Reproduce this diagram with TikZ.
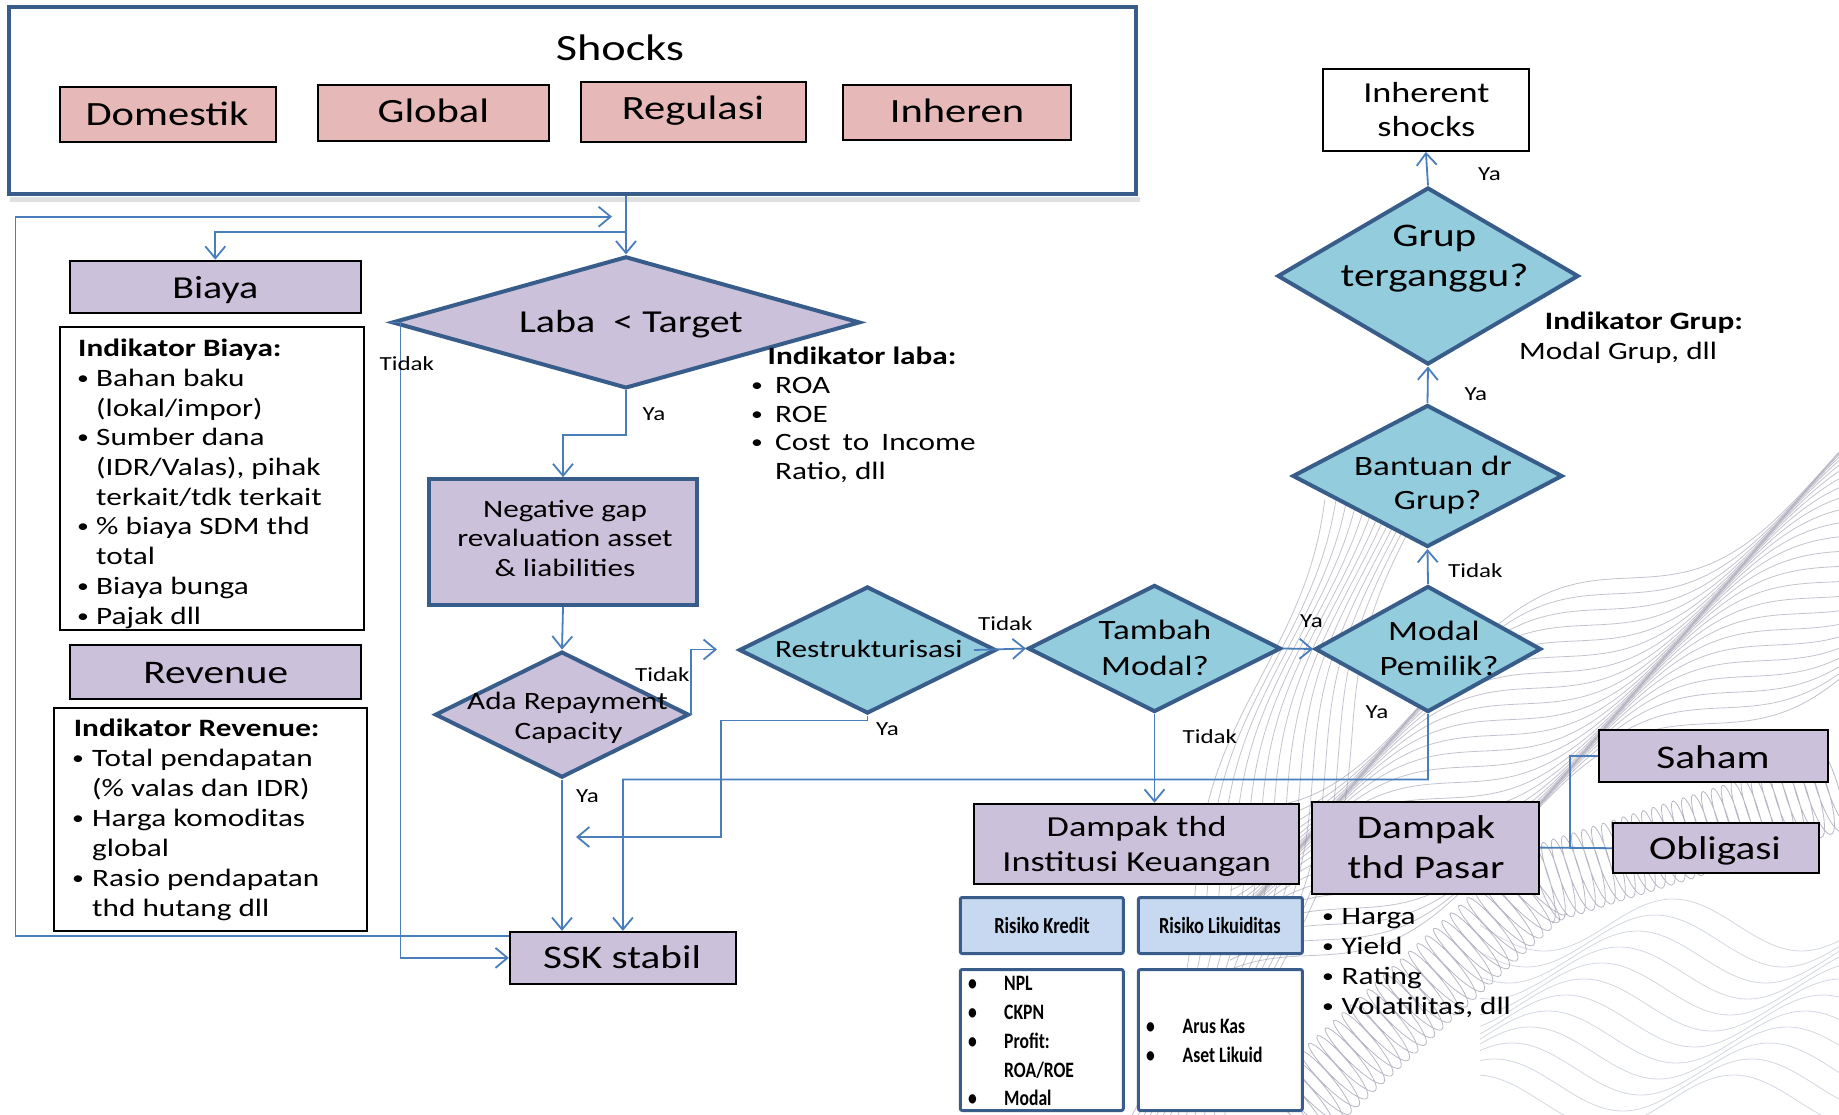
\documentclass[tikz,border=0pt]{standalone}
\usepackage{fontspec}
\setmainfont{Carlito}[FakeStretch=1.25]
\newfontfamily\narrowfont{Carlito}[FakeStretch=0.8]
\usetikzlibrary{arrows.meta,shapes.geometric,calc}

\definecolor{lav}{HTML}{CCC1DA}
\definecolor{rose}{HTML}{E6B9B8}
\definecolor{aqua}{HTML}{93CDDD}
\definecolor{navy}{HTML}{385D8A}
\definecolor{wire}{HTML}{4A7EBB}
\definecolor{riskblue}{HTML}{C6D9F1}
\definecolor{guilA}{HTML}{8C879E}
\definecolor{guilB}{HTML}{A6B2C4}

\begin{document}
\begin{tikzpicture}[x=1pt,y=-1pt,
  panel/.style={draw=black, line width=2pt, inner sep=0pt},
  lavbox/.style={panel, fill=lav},
  pinkbox/.style={panel, fill=rose},
  plainbox/.style={panel, fill=white},
  heavybox/.style={draw=navy, line width=4pt, inner sep=0pt},
  decision/.style={diamond, draw=navy, line width=4pt, inner sep=0pt},
  riskhead/.style={draw=navy, line width=3pt, rounded corners=2pt, fill=riskblue, inner sep=0pt},
  riskbody/.style={draw=navy, line width=3pt, rounded corners=2pt, fill=white, inner sep=0pt},
  txt/.style={inner sep=0pt, anchor=base},
  ltxt/.style={inner sep=0pt, anchor=base west},
  dot/.style={inner sep=0pt, anchor=base west, font=\fontsize{19pt}{22pt}\selectfont},
  conn/.style={draw=wire, line width=1.8pt, -{Straight Barb[length=12pt,width=20pt]}},
  link/.style={draw=wire, line width=1.8pt},
  guil/.style={line width=0.8pt, opacity=0.5},
  f20/.style={font=\fontsize{20pt}{24pt}\selectfont},
  f25/.style={font=\fontsize{25pt}{30pt}\selectfont},
  f25b/.style={font=\fontsize{25pt}{30pt}\selectfont\bfseries},
  f28/.style={font=\fontsize{28pt}{34pt}\selectfont},
  f29/.style={font=\fontsize{29pt}{35pt}\selectfont},
  f32/.style={font=\fontsize{32pt}{38pt}\selectfont},
  f33/.style={font=\fontsize{33pt}{40pt}\selectfont},
  f34/.style={font=\fontsize{34pt}{41pt}\selectfont},
  f37/.style={font=\fontsize{37pt}{44pt}\selectfont},
  nhead/.style={font=\narrowfont\bfseries\fontsize{23pt}{28pt}\selectfont},
  nbody/.style={font=\narrowfont\bfseries\fontsize{22pt}{27pt}\selectfont},
]
\useasboundingbox (0,0) rectangle (1839,1115);
\fill[white] (0,0) rectangle (1839,1115);

% ---------- guilloche ornament, lower right ----------
\begin{scope}
\clip (1000,360) rectangle (1839,1115);
% wire-frame ridges
\foreach \i in {0,...,24} {
  \draw[guil, draw=guilA]
    plot[domain=1230:1839, samples=110, smooth]
    (\x, {810 + 8*\i - 0.58*(\x-1230) + 34*sin(0.9*(\x-1230) + 12*\i)});
}
% slanted ripples
\foreach \j in {0,...,12} {
  \draw[guil, draw=guilA]
    plot[domain=500:1115, samples=90, smooth, variable=\y]
    ({1130 + 0.3*(1115-\y) + 9*\j + 16*sin(0.8*\y + 11*\j)}, \y);
}
% coiled band, four runs of fifteen turns each
\foreach \sx/\sy/\dx/\dy/\nx/\ny/\ex/\ey in {
    1290/1115/125/-115/0.676/0.735/0.735/-0.676,
    1415/1000/125/-115/0.676/0.735/0.735/-0.676,
    1540/885/150/-47.5/0.303/0.952/0.952/-0.303,
    1690/837.5/149/-47.5/0.303/0.952/0.952/-0.303} {
  \draw[guil, draw=guilA, opacity=0.6]
    plot[domain=0:5400, samples=380, smooth, variable=\t]
    ({\sx + \dx*(\t/5400) + 40*\nx*cos(\t) + 8*\ex*sin(\t)},
     {\sy + \dy*(\t/5400) + 40*\ny*cos(\t) + 8*\ey*sin(\t)});
}
% contour lines
\foreach \m in {0,...,11} {
  \draw[guil, draw=guilB]
    plot[domain=1480:1839, samples=90, smooth]
    (\x, {925 + 16*\m + 26*sin(1.4*(\x-1480) + 25*\m)});
}
\end{scope}

% ---------- shocks panel ----------
\fill[black!12] (10,197) rectangle (1140,202);
\node[heavybox, fill=white, minimum width=1127pt, minimum height=187pt] (shocks) at (572.5,100.5) {};
\node[txt,f37] (shocksT) at (620,61) {Shocks};
\node[pinkbox, minimum width=216pt, minimum height=55pt] (dom) at (168,115) {};
\node[txt,f34] (domT) at (167,126) {Domestik};
\node[pinkbox, minimum width=231pt, minimum height=56pt] (glob) at (433.4,113.3) {};
\node[txt,f34] (globT) at (433.4,123) {Global};
\node[pinkbox, minimum width=225pt, minimum height=60pt] (reg) at (693,112.5) {};
\node[txt,f34] (regT) at (693,120) {Regulasi};
\node[pinkbox, minimum width=228pt, minimum height=55pt] (inher) at (957,112.7) {};
\node[txt,f34] (inherT) at (957,123) {Inheren};

% ---------- cost side ----------
\node[lavbox, minimum width=291pt, minimum height=52pt] (biaya) at (215.3,286.7) {};
\node[txt,f32] (biayaT) at (215.3,299) {Biaya};
\node[plainbox, minimum width=304pt, minimum height=303pt] (indB) at (212,478.5) {};
\node[ltxt,f25b] (indB0) at (78,356.7) {Indikator Biaya:};
\node[dot] (indBb1) at (77,384.4) {•};
\node[ltxt,f25] (indB1) at (96,386.4) {Bahan baku};
\node[ltxt,f25] (indB2) at (96,416.1) {(lokal/impor)};
\node[dot] (indBb3) at (77,443.8) {•};
\node[ltxt,f25] (indB3) at (96,445.8) {Sumber dana};
\node[ltxt,f25] (indB4) at (96,475.5) {(IDR/Valas), pihak};
\node[ltxt,f25] (indB5) at (96,505.2) {terkait/tdk terkait};
\node[dot] (indBb6) at (77,532.9) {•};
\node[ltxt,f25] (indB6) at (96,534.9) {\% biaya SDM thd};
\node[ltxt,f25] (indB7) at (96,564.6) {total};
\node[dot] (indBb8) at (77,592.3) {•};
\node[ltxt,f25] (indB8) at (96,594.3) {Biaya bunga};
\node[dot] (indBb9) at (77,622) {•};
\node[ltxt,f25] (indB9) at (96,624) {Pajak dll};

% ---------- revenue side ----------
\node[lavbox, minimum width=291pt, minimum height=54pt] (rev) at (215.7,671.7) {};
\node[txt,f33] (revT) at (215.7,683.3) {Revenue};
\node[plainbox, minimum width=313pt, minimum height=223pt] (indR) at (210.9,819.2) {};
\node[ltxt,f25b] (indR0) at (73.7,736.7) {Indikator Revenue:};
\node[dot] (indRb1) at (72,764.7) {•};
\node[ltxt,f25] (indR1) at (92,766.7) {Total pendapatan};
\node[ltxt,f25] (indR2) at (92,796.6) {(\% valas dan IDR)};
\node[dot] (indRb3) at (72,824.5) {•};
\node[ltxt,f25] (indR3) at (92,826.5) {Harga komoditas};
\node[ltxt,f25] (indR4) at (92,856.4) {global};
\node[dot] (indRb5) at (72,884.3) {•};
\node[ltxt,f25] (indR5) at (92,886.3) {Rasio pendapatan};
\node[ltxt,f25] (indR6) at (92,916.2) {thd hutang dll};

% ---------- main decision column ----------
\node[decision, fill=lav, minimum width=468pt, minimum height=132pt] (laba) at (626,322.4) {};
\node[txt,f32] (labaT) at (631,332) {Laba\ \ < Target};
\node[ltxt,f25b] (indL0) at (767.5,364) {Indikator laba:};
\node[dot] (indLb1) at (751,391) {•};
\node[ltxt,f25] (indL1) at (775,393) {ROA};
\node[dot] (indLb2) at (751,420) {•};
\node[ltxt,f25] (indL2) at (775,422) {ROE};
\node[dot] (indLb3) at (751,448.5) {•};
\node[ltxt,f25] (indL3) at (775,450.5) {Cost\hspace{5pt} to\hspace{5pt} Income};
\node[ltxt,f25] (indL4) at (775,479) {Ratio, dll};

\node[heavybox, fill=lav, minimum width=268pt, minimum height=126pt] (neg) at (563,542.2) {};
\node[txt,f25] (negT1) at (565,517.5) {Negative gap};
\node[txt,f25] (negT2) at (565,546.5) {revaluation asset};
\node[txt,f25] (negT3) at (565,576) {\& liabilities};

\node[decision, fill=lav, minimum width=254pt, minimum height=126pt] (ada) at (562,714.6) {};
\node[txt,f25] (adaT1) at (567.5,709) {Ada Repayment};
\node[txt,f25] (adaT2) at (568.6,739.4) {Capacity};

\node[lavbox, minimum width=226pt, minimum height=52pt] (ssk) at (622.9,957.9) {};
\node[txt,f33] (sskT) at (622,968) {SSK stabil};

% ---------- recovery path ----------
\node[decision, fill=aqua, minimum width=257pt, minimum height=127pt] (restr) at (867.5,650) {};
\node[txt,f25] (restrT) at (868.8,657) {Restrukturisasi};

\node[decision, fill=aqua, minimum width=253pt, minimum height=127pt] (tambah) at (1154.5,648.5) {};
\node[txt,f28] (tambahT1) at (1155,639.6) {Tambah};
\node[txt,f28] (tambahT2) at (1155,675) {Modal?};

\node[decision, fill=aqua, minimum width=226pt, minimum height=126pt] (mp) at (1428,649) {};
\node[txt,f28] (mpT1) at (1434,640.7) {Modal};
\node[txt,f28] (mpT2) at (1439,675) {Pemilik?};

\node[decision, fill=aqua, minimum width=270pt, minimum height=142pt] (bantuan) at (1427.5,476) {};
\node[txt,f28] (bantuanT1) at (1433,475.7) {Bantuan dr};
\node[txt,f28] (bantuanT2) at (1437.6,509.6) {Grup?};

\node[decision, fill=aqua, minimum width=301pt, minimum height=177pt] (grup) at (1428,276) {};
\node[txt,f33] (grupT1) at (1434.5,246.4) {Grup};
\node[txt,f33] (grupT2) at (1434.5,286.4) {terganggu?};
\node[ltxt,f25b] (indG0) at (1544.7,329.3) {Indikator Grup:};
\node[ltxt,f25] (indG1) at (1519,359.6) {Modal Grup, dll};

\node[plainbox, minimum width=206pt, minimum height=82pt] (inh) at (1425.9,109.9) {};
\node[txt,f29] (inhT1) at (1426.4,102.5) {Inherent};
\node[txt,f29] (inhT2) at (1426.4,136.4) {shocks};

% ---------- impact boxes ----------
\node[lavbox, minimum width=325pt, minimum height=80pt] (dinst) at (1136.4,843.7) {};
\node[txt,f29] (dinstT1) at (1136.7,836) {Dampak thd};
\node[txt,f29] (dinstT2) at (1136.7,871.5) {Institusi Keuangan};

\node[lavbox, minimum width=227pt, minimum height=92pt] (dpasar) at (1425.7,847.6) {};
\node[txt,f33] (dpasarT1) at (1426,838) {Dampak};
\node[txt,f33] (dpasarT2) at (1426,878) {thd Pasar};

\node[lavbox, minimum width=229pt, minimum height=52pt] (saham) at (1713.4,756) {};
\node[txt,f33] (sahamT) at (1713,768) {Saham};
\node[lavbox, minimum width=206pt, minimum height=50pt] (oblig) at (1716,848.2) {};
\node[txt,f33] (obligT) at (1715,859) {Obligasi};

\node[dot] (pb1) at (1322,922.6) {•};
\node[ltxt,f25] (p1) at (1341.4,924.6) {Harga};
\node[dot] (pb2) at (1322,952.7) {•};
\node[ltxt,f25] (p2) at (1341.4,954.7) {Yield};
\node[dot] (pb3) at (1322,982.8) {•};
\node[ltxt,f25] (p3) at (1341.4,984.8) {Rating};
\node[dot] (pb4) at (1322,1012) {•};
\node[ltxt,f25] (p4) at (1341.4,1014) {Volatilitas, dll};

\node[riskhead, minimum width=163pt, minimum height=56pt] (rk) at (1041.8,925.5) {};
\node[txt,nhead] (rkT) at (1042,933.5) {Risiko Kredit};
\node[riskhead, minimum width=164pt, minimum height=56pt] (rl) at (1220.4,925.5) {};
\node[txt,nhead] (rlT) at (1219.8,933.5) {Risiko Likuiditas};
\node[riskbody, minimum width=163pt, minimum height=141pt] (rkb) at (1041.8,1040) {};
\node[ltxt,nbody] (rkbb1) at (968,990) {•};
\node[ltxt,nbody] (rkb1) at (1004,990) {NPL};
\node[ltxt,nbody] (rkbb2) at (968,1019) {•};
\node[ltxt,nbody] (rkb2) at (1004,1019) {CKPN};
\node[ltxt,nbody] (rkbb3) at (968,1048.5) {•};
\node[ltxt,nbody] (rkb3) at (1004,1048.5) {Profit:};
\node[ltxt,nbody] (rkb4) at (1004,1077.5) {ROA/ROE};
\node[ltxt,nbody] (rkbb5) at (968,1105) {•};
\node[ltxt,nbody] (rkb5) at (1004,1105) {Modal};
\node[riskbody, minimum width=164pt, minimum height=141pt] (rlb) at (1220.4,1040) {};
\node[ltxt,nbody] (rlbb1) at (1146,1033.6) {•};
\node[ltxt,nbody] (rlb1) at (1182.5,1033.6) {Arus Kas};
\node[ltxt,nbody] (rlbb2) at (1146,1062.7) {•};
\node[ltxt,nbody] (rlb2) at (1182.5,1062.7) {Aset Likuid};

% ---------- connectors ----------
\coordinate (fork) at (626,232);
\coordinate (loopL) at (15.5,216.7);
\coordinate (loopEnd) at (612,216.7);
\coordinate (sskOut) at ($(ssk.west)+(0,-22)$);
\coordinate (tidakBend) at (400.4,322.4);
\coordinate (yaBend) at (626,435);
\coordinate (restrIn) at (717,649.5);
\coordinate (restrOut) at ($(restr.east)+(-24,0)$);
\coordinate (restrYa) at ($(restr.south)+(0,5)$);
\coordinate (restrBend) at (720.8,837);
\coordinate (restrEnd) at (576,837);
\coordinate (join) at (623,779.5);
\coordinate (split) at (1569.6,847.6);

\draw[conn] (laba.north |- shocks.south) -- (laba.north);
\draw[conn] (fork) -| (biaya.north);
\draw[conn] (sskOut) -| (loopL) -- (loopEnd);
\draw[conn] (laba.west) -- (tidakBend) |- (ssk.west);
\draw[conn] (laba.south) -- (yaBend) -| (neg.north);
\draw[conn] (neg.south) -- (ada.north);
\draw[conn] (ada.south) -- (ada.south |- ssk.north);
\draw[conn] (ada.east) |- (restrIn);
\draw[conn] (restrOut) -- (tambah.west);
\draw[conn] (restr.south) -- (restrYa) -| (restrBend) -- (restrEnd);
\draw[conn] (tambah.east) -- (mp.west);
\draw[conn] (tambah.south) -- (tambah.south |- dinst.north);
\draw[conn] (mp.south) |- (join) -- (ssk.north);
\draw[conn] (mp.north) -- (bantuan.south);
\draw[conn] (bantuan.north) -- (grup.south);
\draw[conn] (grup.north) -- (inh.south);
\draw[link] (dpasar.east) -- (oblig.west);
\draw[link] (split) |- (saham.west);

% ---------- branch labels ----------
\node[ltxt,f20] (l1) at (379.5,370) {Tidak};
\node[ltxt,f20] (l2) at (642.5,420) {Ya};
\node[ltxt,f20] (l3) at (635,681) {Tidak};
\node[ltxt,f20] (l4) at (576,802.7) {Ya};
\node[ltxt,f20] (l5) at (978,630) {Tidak};
\node[ltxt,f20] (l6) at (876,735.6) {Ya};
\node[ltxt,f20] (l7) at (1300,627) {Ya};
\node[ltxt,f20] (l8) at (1182.5,743.4) {Tidak};
\node[ltxt,f20] (l9) at (1365.5,718.6) {Ya};
\node[ltxt,f20] (l10) at (1448,577) {Tidak};
\node[ltxt,f20] (l11) at (1464.4,400.7) {Ya};
\node[ltxt,f20] (l12) at (1478,181) {Ya};
\end{tikzpicture}
\end{document}
